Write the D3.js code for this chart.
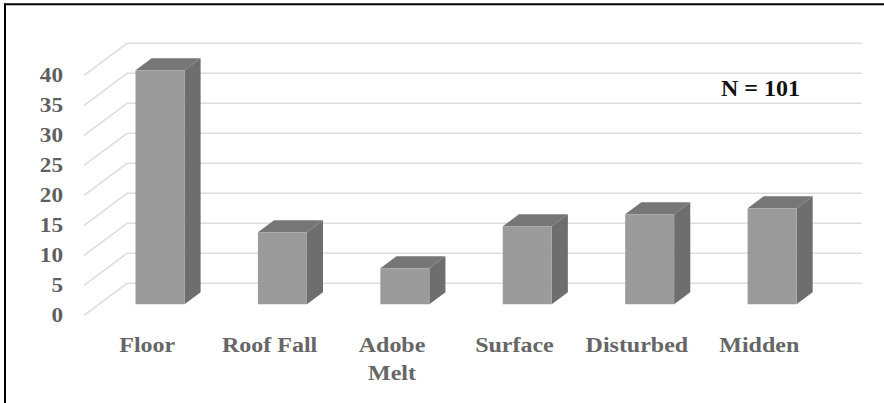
<!DOCTYPE html>
<html>
<head>
<meta charset="utf-8">
<script src="https://cdn.jsdelivr.net/npm/d3@7/dist/d3.min.js"></script>
<style>
  html, body { margin: 0; padding: 0; background: #ffffff; }
  svg { display: block; }
  svg text { font-family: "Liberation Serif", "Times New Roman", serif; font-weight: bold; }
</style>
</head>
<body>
<script>
// Context categories and artifact counts
const categories = ["Floor", "Roof Fall", "Adobe Melt", "Surface", "Disturbed", "Midden"];
const labelLines = [["Floor"], ["Roof Fall"], ["Adobe", "Melt"], ["Surface"], ["Disturbed"], ["Midden"]];
const counts = [39, 12, 6, 13, 15, 16];
const tickValues = [0, 5, 10, 15, 20, 25, 30, 35, 40];
const totalLabel = "N = 101";

const W = 884, H = 403;
const svg = d3.select("body").append("svg").attr("width", W).attr("height", H);

// Back wall scales
const x = d3.scaleBand().domain(categories).range([127, 861.5]).paddingInner(0.6).paddingOuter(0.3);
const y = d3.scaleLinear().domain([0, 40]).range([283.3, 43.3]);

// Oblique depth: z = 0 on back wall, z = 1 on front edge of the floor
const DX = -43, DY = 32;
const proj = (px, v, z) => [px + DX * z, y(v) + DY * z];
const zFront = 0.656, zBack = 0.281;

// Frame lines (top and left)
svg.append("line").attr("x1", 5).attr("x2", W).attr("y1", 4.3).attr("y2", 4.3)
  .attr("stroke", "#000").attr("stroke-width", 2);
svg.append("line").attr("x1", 5).attr("x2", 5).attr("y1", 3.3).attr("y2", H)
  .attr("stroke", "#000").attr("stroke-width", 2);

// Gridlines on the back wall and the left wall
const [gx0, gx1] = x.range();
const grid = svg.append("g").attr("stroke", "#dedede").attr("stroke-width", 1.6).attr("fill", "none");
tickValues.forEach(v => {
  grid.append("line").attr("x1", gx0).attr("x2", gx1).attr("y1", y(v)).attr("y2", y(v));
  const [fx, fy] = proj(gx0, v, 1);
  grid.append("line").attr("x1", gx0).attr("y1", y(v)).attr("x2", fx).attr("y2", fy);
});

// Value axis labels on the front edge
const axisG = svg.append("g");
tickValues.forEach(v => {
  const [, fy] = proj(gx0, v, 1);
  axisG.append("text")
    .attr("transform", `translate(63,${fy + 6.8}) scale(1.16,1)`)
    .attr("text-anchor", "end")
    .attr("font-size", 20)
    .attr("fill", "#5f5f5f")
    .text(v);
});

// 3D bars
const pts = arr => arr.map(p => p.join(",")).join(" ");
const bars = svg.append("g");
categories.forEach((c, i) => {
  const v = counts[i];
  const x0 = x(c), x1 = x0 + x.bandwidth();
  const g = bars.append("g");
  // right side face
  g.append("polygon").attr("points", pts([
    proj(x1, 0, zFront), proj(x1, 0, zBack), proj(x1, v, zBack), proj(x1, v, zFront)
  ])).attr("fill", "#6e6e6e");
  // top face
  g.append("polygon").attr("points", pts([
    proj(x0, v, zFront), proj(x1, v, zFront), proj(x1, v, zBack), proj(x0, v, zBack)
  ])).attr("fill", "#767676");
  // front face
  g.append("polygon").attr("points", pts([
    proj(x0, 0, zFront), proj(x1, 0, zFront), proj(x1, v, zFront), proj(x0, v, zFront)
  ])).attr("fill", "#9b9b9b");
});

// Category labels under the floor
const catG = svg.append("g");
categories.forEach((c, i) => {
  const cx = x(c) + x.bandwidth() / 2 + DX + 2;
  labelLines[i].forEach((line, j) => {
    catG.append("text")
      .attr("transform", `translate(${cx},${352 + j * 28}) scale(1.2,1)`)
      .attr("text-anchor", "middle")
      .attr("font-size", 20)
      .attr("fill", "#666666")
      .text(line);
  });
});

// Sample size annotation
svg.append("text")
  .attr("x", 721).attr("y", 96)
  .attr("font-size", 24)
  .attr("fill", "#111111")
  .text(totalLabel);
</script>
</body>
</html>
